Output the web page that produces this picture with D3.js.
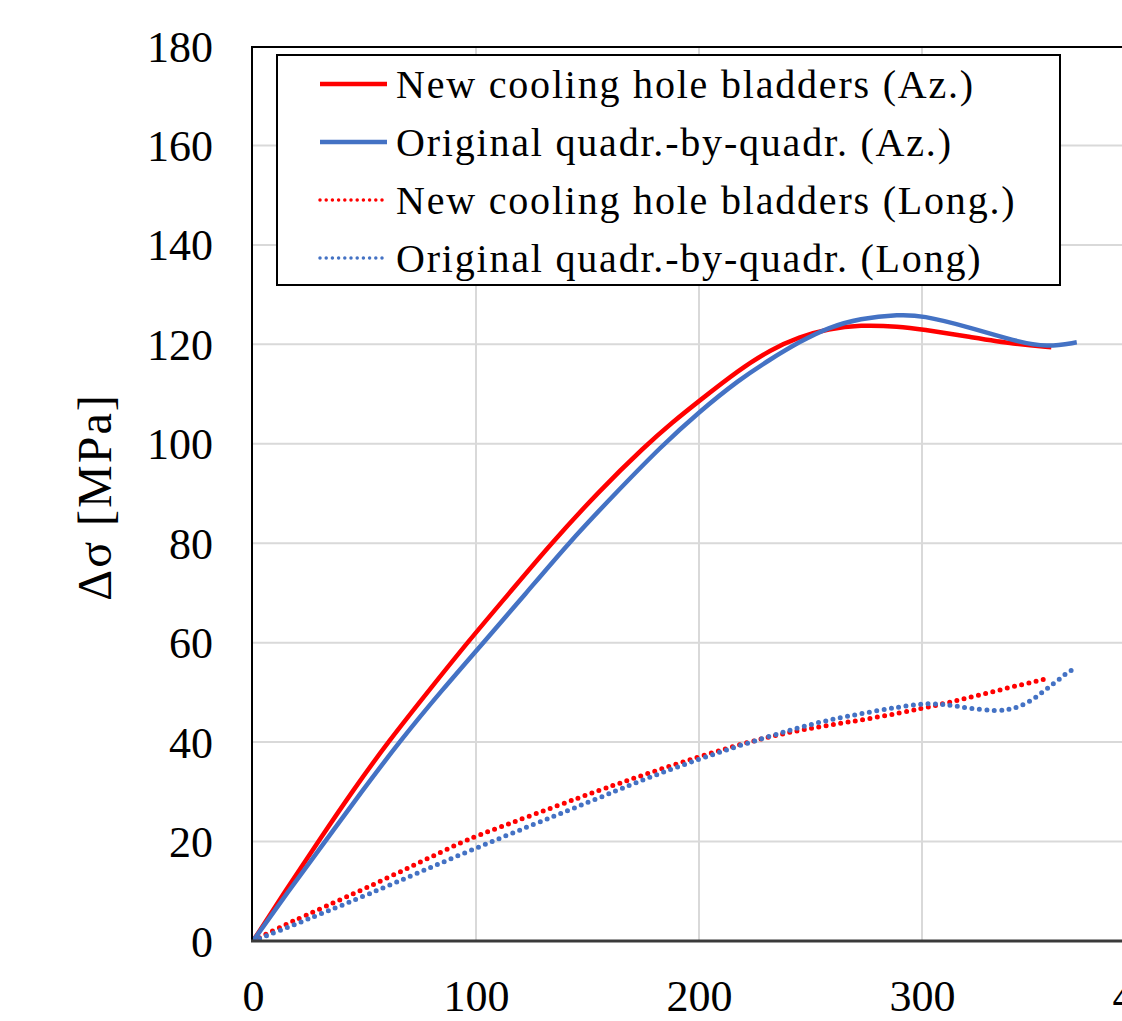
<!DOCTYPE html>
<html>
<head>
<meta charset="utf-8">
<script src="https://cdn.jsdelivr.net/npm/d3@7/dist/d3.min.js"></script>
<style>
  html, body { margin: 0; padding: 0; background: #fff; }
  svg { display: block; }
  text { font-family: "Liberation Serif", "Times New Roman", serif; fill: #000; }
</style>
</head>
<body>
<svg id="chart" width="1122" height="1021"></svg>
<script>
// Stress range vs. position, azimuthal and longitudinal components
const xTicks = [0, 100, 200, 300, 400];
const yTicks = [0, 20, 40, 60, 80, 100, 120, 140, 160, 180];

const seriesNames = [
  "New cooling hole bladders (Az.)",
  "Original quadr.-by-quadr. (Az.)",
  "New cooling hole bladders (Long.)",
  "Original quadr.-by-quadr. (Long)"
];

// [x, Δσ] pairs
const newAz = [
  [0, 0], [15, 10.4], [30, 20.5], [45, 30.4], [60.5, 40], [80, 51], [97, 60.5],
  [115, 70.0], [133, 79.6], [155, 90.4], [176, 99.6], [188, 104.3], [200, 108.6],
  [218, 114.9], [232, 118.9], [245, 121.5], [258, 123.1], [272, 123.9],
  [290, 123.6], [300, 123.0], [320, 121.6], [342, 120.0], [358, 119.4]
];
const origAz = [
  [0, 0], [16, 10.1], [32.3, 20], [48, 29.6], [65.5, 40], [85, 50.6], [103.3, 60],
  [122, 69.7], [141.4, 80], [162, 89.8], [183.3, 99.6], [200, 106.4], [218, 112.9],
  [232, 117.0], [245, 120.5], [258, 123.4], [272, 125.2], [290, 126.0],
  [300, 125.8], [320, 123.6], [342, 120.6], [356, 119.4], [369.4, 120.4]
];
const newLong = [
  [0, 0], [13.6, 3.2], [49.5, 10.3], [94, 20], [100, 21.1], [150, 29.5],
  [175, 33.4], [200, 37.1], [222.9, 40.1], [239.3, 41.9], [255, 43.2],
  [278, 44.8], [300.6, 46.8], [317, 48.5], [335.7, 50.6], [354.4, 52.6]
];
const origLong = [
  [0, 0], [13.6, 2.4], [49.5, 8.9], [100, 18.8], [150, 27.8], [175, 32.5],
  [200, 36.6], [222.9, 40.0], [239.3, 42.2], [255, 44.2], [278, 46.2],
  [300.6, 47.9], [310, 47.6], [320, 46.9], [334, 46.1], [342, 46.8],
  [349, 48.3], [354, 50.0], [358, 51.5], [362, 52.7], [365.3, 54.2], [368.9, 54.7]
];

const RED = "#ff0000", BLUE = "#4472c4";
const series = [
  { name: seriesNames[0], data: newAz, color: RED, dotted: false },
  { name: seriesNames[1], data: origAz, color: BLUE, dotted: false },
  { name: seriesNames[2], data: newLong, color: RED, dotted: true },
  { name: seriesNames[3], data: origLong, color: BLUE, dotted: true }
];

const svg = d3.select("#chart");
const W = 1122, H = 1021;
const plot = { left: 253, top: 46, right: 1145, bottom: 941 };

const x = d3.scaleLinear().domain([0, 400]).range([plot.left, plot.right]);
const y = d3.scaleLinear().domain([0, 180]).range([plot.bottom, plot.top]);

svg.append("defs").append("clipPath").attr("id", "plotClip")
  .append("rect")
  .attr("x", plot.left).attr("y", plot.top)
  .attr("width", plot.right - plot.left).attr("height", plot.bottom - plot.top);

// gridlines
const grid = svg.append("g");
grid.selectAll("line.h").data(yTicks.filter(v => v > 0 && v < 180)).join("line")
  .attr("x1", plot.left).attr("x2", W)
  .attr("y1", d => y(d)).attr("y2", d => y(d))
  .attr("stroke", "#d9d9d9").attr("stroke-width", 2);
grid.selectAll("line.v").data(xTicks.filter(v => v > 0)).join("line")
  .attr("x1", d => x(d)).attr("x2", d => x(d))
  .attr("y1", plot.top).attr("y2", plot.bottom)
  .attr("stroke", "#d9d9d9").attr("stroke-width", 2);

// data lines (smoothed)
const line = d3.line().x(d => x(d[0])).y(d => y(d[1])).curve(d3.curveBasis);
const lines = svg.append("g").attr("clip-path", "url(#plotClip)");
// dotted series underneath solid ones
[2, 3, 0, 1].forEach(i => {
  const s = series[i];
  const p = lines.append("path")
    .attr("d", line(s.data))
    .attr("fill", "none")
    .attr("stroke", s.color)
    .attr("stroke-width", s.dotted ? 5 : 4.5)
    .attr("stroke-linejoin", "round");
  if (s.dotted) p.attr("stroke-dasharray", "0 7.4").attr("stroke-linecap", "round");
});

// plot area frame
svg.append("line").attr("x1", plot.left - 1).attr("x2", plot.left - 1)
  .attr("y1", plot.top).attr("y2", plot.bottom)
  .attr("stroke", "#000").attr("stroke-width", 2);
svg.append("line").attr("x1", plot.left - 2).attr("x2", W)
  .attr("y1", plot.top + 1).attr("y2", plot.top + 1)
  .attr("stroke", "#000").attr("stroke-width", 2);
svg.append("line").attr("x1", plot.left - 2).attr("x2", W)
  .attr("y1", plot.bottom).attr("y2", plot.bottom)
  .attr("stroke", "#3a3a3a").attr("stroke-width", 3);

// axes tick labels
const yAxis = d3.axisLeft(y).tickValues(yTicks).tickSize(0).tickPadding(0);
const gy = svg.append("g").attr("transform", `translate(${plot.left - 40},0)`).call(yAxis);
gy.select(".domain").remove();
gy.selectAll("text")
  .attr("x", 0).attr("dy", null).attr("y", 15)
  .style("font-family", "'Liberation Serif', serif").style("font-size", "44px")
  .attr("fill", "#000");

const xAxis = d3.axisBottom(x).tickValues(xTicks).tickSize(0).tickPadding(0);
const gx = svg.append("g").attr("transform", `translate(0,${plot.bottom})`).call(xAxis);
gx.select(".domain").remove();
gx.selectAll("text")
  .attr("dy", null).attr("y", 70)
  .style("font-family", "'Liberation Serif', serif").style("font-size", "44px")
  .attr("fill", "#000");

// y-axis title
svg.append("text")
  .attr("transform", "translate(111,497) rotate(-90)")
  .attr("text-anchor", "middle")
  .style("font-size", "48px")
  .style("letter-spacing", "2px")
  .text("Δσ [MPa]");

// legend
const leg = svg.append("g");
leg.append("rect")
  .attr("x", 277).attr("y", 55).attr("width", 783).attr("height", 230)
  .attr("fill", "#fff").attr("stroke", "#000").attr("stroke-width", 2);
const rowY = [84, 142, 200, 258];
series.forEach((s, i) => {
  const l = leg.append("line")
    .attr("x1", 320).attr("x2", 387)
    .attr("y1", rowY[i]).attr("y2", rowY[i])
    .attr("stroke", s.color)
    .attr("stroke-width", s.dotted ? 3.5 : 4.5);
  if (s.dotted) l.attr("stroke-dasharray", "0 6.2").attr("stroke-linecap", "round");
  leg.append("text")
    .attr("x", 396).attr("y", rowY[i] + 14)
    .style("font-size", "40px")
    .style("letter-spacing", "1.8px")
    .text(s.name);
});
</script>
</body>
</html>
